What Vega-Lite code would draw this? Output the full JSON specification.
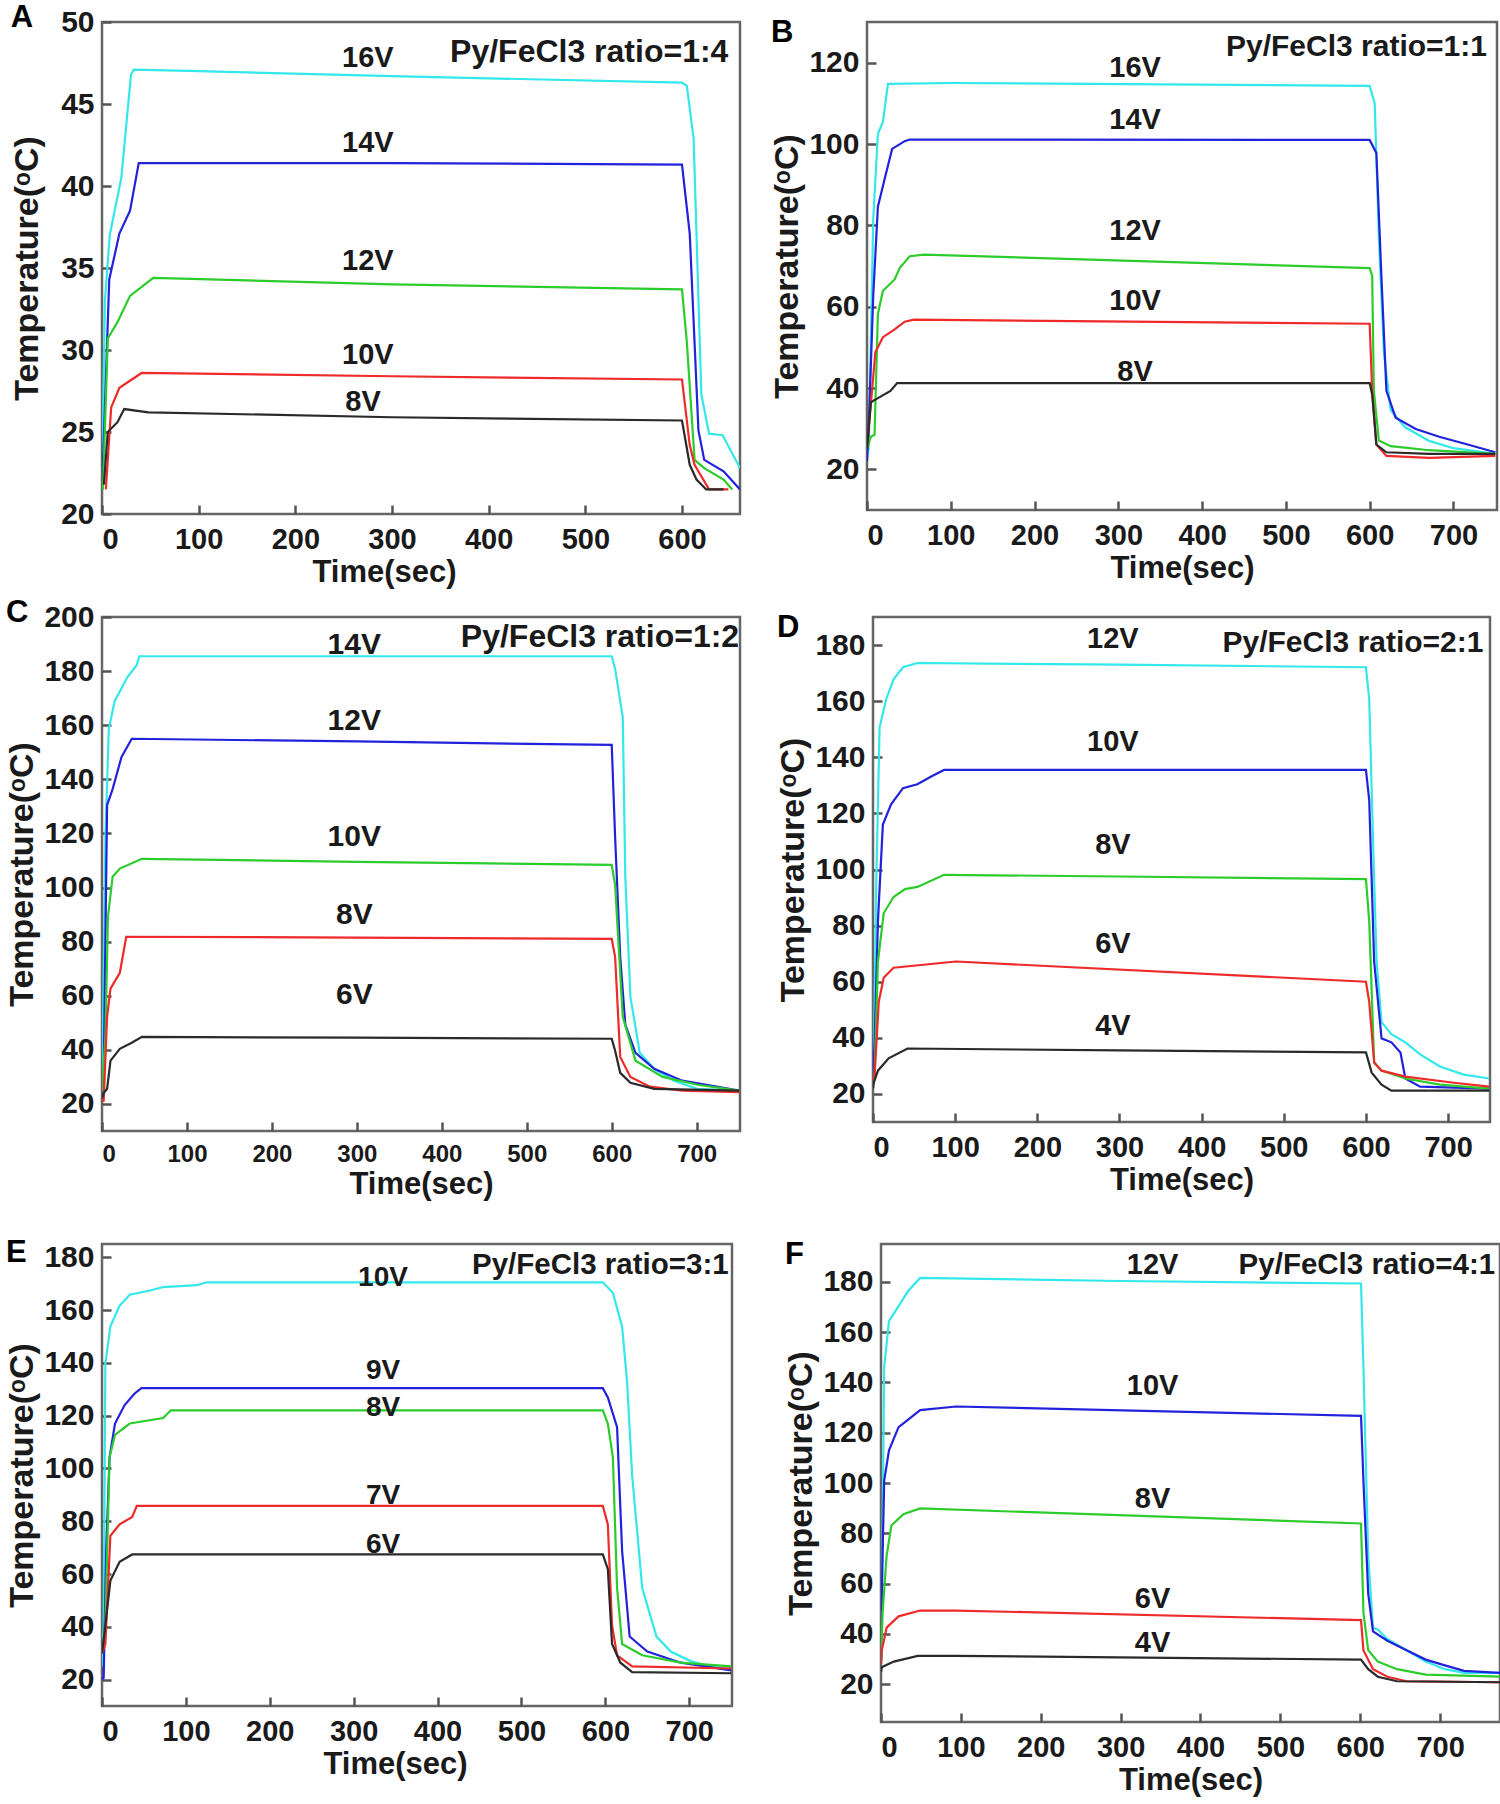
{
  "$schema": "https://vega.github.io/schema/vega-lite/v6.json",
  "padding": {"left": 4, "top": 0, "right": 0, "bottom": 0},
  "background": "white",
  "datasets": {
    "curves": [
      {"p":"A","s":"c","t":0,"T":21.5},{"p":"A","s":"c","t":3,"T":33},{"p":"A","s":"c","t":8,"T":37},{"p":"A","s":"c","t":20,"T":40.5},{"p":"A","s":"c","t":30,"T":46.8},{"p":"A","s":"c","t":33,"T":47.1},{"p":"A","s":"c","t":100,"T":47.0},{"p":"A","s":"c","t":300,"T":46.7},{"p":"A","s":"c","t":600,"T":46.3},{"p":"A","s":"c","t":605,"T":46.1},{"p":"A","s":"c","t":612,"T":42.9},{"p":"A","s":"c","t":620,"T":27.3},{"p":"A","s":"c","t":628,"T":24.9},{"p":"A","s":"c","t":642,"T":24.8},{"p":"A","s":"c","t":660,"T":22.8},
      {"p":"A","s":"b","t":0,"T":21.5},{"p":"A","s":"b","t":3,"T":26.5},{"p":"A","s":"b","t":7.5,"T":34.3},{"p":"A","s":"b","t":18,"T":37.1},{"p":"A","s":"b","t":29,"T":38.5},{"p":"A","s":"b","t":38,"T":41.4},{"p":"A","s":"b","t":300,"T":41.4},{"p":"A","s":"b","t":600,"T":41.3},{"p":"A","s":"b","t":608,"T":37.1},{"p":"A","s":"b","t":617,"T":25.1},{"p":"A","s":"b","t":623,"T":23.3},{"p":"A","s":"b","t":643,"T":22.6},{"p":"A","s":"b","t":660,"T":21.5},
      {"p":"A","s":"g","t":1,"T":21.5},{"p":"A","s":"g","t":6,"T":30.7},{"p":"A","s":"g","t":16,"T":31.7},{"p":"A","s":"g","t":29,"T":33.3},{"p":"A","s":"g","t":53,"T":34.4},{"p":"A","s":"g","t":300,"T":34.0},{"p":"A","s":"g","t":600,"T":33.7},{"p":"A","s":"g","t":605,"T":30.5},{"p":"A","s":"g","t":613,"T":23.3},{"p":"A","s":"g","t":623,"T":22.8},{"p":"A","s":"g","t":643,"T":22.1},{"p":"A","s":"g","t":652,"T":21.5},
      {"p":"A","s":"r","t":4,"T":21.5},{"p":"A","s":"r","t":9.5,"T":26.5},{"p":"A","s":"r","t":18,"T":27.7},{"p":"A","s":"r","t":41,"T":28.6},{"p":"A","s":"r","t":300,"T":28.4},{"p":"A","s":"r","t":600,"T":28.2},{"p":"A","s":"r","t":608,"T":24.2},{"p":"A","s":"r","t":613,"T":23.0},{"p":"A","s":"r","t":628,"T":21.5},{"p":"A","s":"r","t":648,"T":21.5},
      {"p":"A","s":"k","t":2,"T":21.8},{"p":"A","s":"k","t":6,"T":25.0},{"p":"A","s":"k","t":16,"T":25.6},{"p":"A","s":"k","t":23,"T":26.4},{"p":"A","s":"k","t":48,"T":26.2},{"p":"A","s":"k","t":300,"T":25.9},{"p":"A","s":"k","t":600,"T":25.7},{"p":"A","s":"k","t":608,"T":23.0},{"p":"A","s":"k","t":615,"T":22.1},{"p":"A","s":"k","t":625,"T":21.5},{"p":"A","s":"k","t":643,"T":21.5},

      {"p":"B","s":"c","t":0,"T":23},{"p":"B","s":"c","t":2,"T":25},{"p":"B","s":"c","t":7.5,"T":81.8},{"p":"B","s":"c","t":13,"T":102.5},{"p":"B","s":"c","t":19,"T":105.4},{"p":"B","s":"c","t":25,"T":114.8},{"p":"B","s":"c","t":100,"T":115},{"p":"B","s":"c","t":600,"T":114.3},{"p":"B","s":"c","t":606,"T":110},{"p":"B","s":"c","t":611,"T":77},{"p":"B","s":"c","t":617,"T":48.8},{"p":"B","s":"c","t":625,"T":34.6},{"p":"B","s":"c","t":642,"T":30.4},{"p":"B","s":"c","t":671,"T":27},{"p":"B","s":"c","t":700,"T":25.2},{"p":"B","s":"c","t":750,"T":23.8},
      {"p":"B","s":"b","t":0,"T":22},{"p":"B","s":"b","t":2,"T":30},{"p":"B","s":"b","t":7.5,"T":63},{"p":"B","s":"b","t":13,"T":84.6},{"p":"B","s":"b","t":22,"T":92.2},{"p":"B","s":"b","t":30,"T":98.8},{"p":"B","s":"b","t":45,"T":100.7},{"p":"B","s":"b","t":51,"T":101.1},{"p":"B","s":"b","t":600,"T":101},{"p":"B","s":"b","t":608,"T":97.8},{"p":"B","s":"b","t":614,"T":67.6},{"p":"B","s":"b","t":620,"T":39.3},{"p":"B","s":"b","t":631,"T":32.7},{"p":"B","s":"b","t":655,"T":29.9},{"p":"B","s":"b","t":683,"T":28},{"p":"B","s":"b","t":717,"T":26.1},{"p":"B","s":"b","t":750,"T":24.2},
      {"p":"B","s":"g","t":0,"T":25},{"p":"B","s":"g","t":4.6,"T":28},{"p":"B","s":"g","t":9,"T":28.5},{"p":"B","s":"g","t":13,"T":58.2},{"p":"B","s":"g","t":19,"T":63.9},{"p":"B","s":"g","t":33,"T":66.7},{"p":"B","s":"g","t":39,"T":69.5},{"p":"B","s":"g","t":51,"T":72.4},{"p":"B","s":"g","t":68,"T":72.8},{"p":"B","s":"g","t":600,"T":69.5},{"p":"B","s":"g","t":603,"T":67.6},{"p":"B","s":"g","t":605,"T":39.3},{"p":"B","s":"g","t":611,"T":27.1},{"p":"B","s":"g","t":625,"T":25.7},{"p":"B","s":"g","t":671,"T":24.7},{"p":"B","s":"g","t":750,"T":23.8},
      {"p":"B","s":"r","t":0,"T":25},{"p":"B","s":"r","t":2,"T":30},{"p":"B","s":"r","t":10,"T":48.8},{"p":"B","s":"r","t":19,"T":52.5},{"p":"B","s":"r","t":33,"T":54.4},{"p":"B","s":"r","t":45,"T":56.3},{"p":"B","s":"r","t":56,"T":56.8},{"p":"B","s":"r","t":600,"T":55.8},{"p":"B","s":"r","t":603,"T":39.3},{"p":"B","s":"r","t":608,"T":26.1},{"p":"B","s":"r","t":620,"T":23.3},{"p":"B","s":"r","t":671,"T":22.8},{"p":"B","s":"r","t":750,"T":23.3},
      {"p":"B","s":"k","t":0,"T":25},{"p":"B","s":"k","t":4.6,"T":36.5},{"p":"B","s":"k","t":13,"T":37.5},{"p":"B","s":"k","t":28,"T":39.3},{"p":"B","s":"k","t":36,"T":41.2},{"p":"B","s":"k","t":600,"T":41.2},{"p":"B","s":"k","t":603,"T":38.4},{"p":"B","s":"k","t":608,"T":26.1},{"p":"B","s":"k","t":620,"T":24.2},{"p":"B","s":"k","t":671,"T":23.8},{"p":"B","s":"k","t":750,"T":23.8},

      {"p":"C","s":"c","t":0,"T":25},{"p":"C","s":"c","t":1,"T":44.8},{"p":"C","s":"c","t":4,"T":118.7},{"p":"C","s":"c","t":8,"T":158.6},{"p":"C","s":"c","t":15,"T":169},{"p":"C","s":"c","t":30,"T":177.8},{"p":"C","s":"c","t":41,"T":182.3},{"p":"C","s":"c","t":44,"T":185.5},{"p":"C","s":"c","t":600,"T":185.5},{"p":"C","s":"c","t":604,"T":180.8},{"p":"C","s":"c","t":613,"T":163},{"p":"C","s":"c","t":616,"T":104},{"p":"C","s":"c","t":622,"T":59.6},{"p":"C","s":"c","t":633,"T":38.9},{"p":"C","s":"c","t":650,"T":33},{"p":"C","s":"c","t":673,"T":28.6},{"p":"C","s":"c","t":701,"T":25.6},{"p":"C","s":"c","t":750,"T":24.9},
      {"p":"C","s":"b","t":0,"T":25},{"p":"C","s":"b","t":2,"T":30},{"p":"C","s":"b","t":6,"T":130.5},{"p":"C","s":"b","t":12.5,"T":136.4},{"p":"C","s":"b","t":23,"T":148.3},{"p":"C","s":"b","t":35,"T":155},{"p":"C","s":"b","t":300,"T":154},{"p":"C","s":"b","t":600,"T":152.7},{"p":"C","s":"b","t":604,"T":118.7},{"p":"C","s":"b","t":610,"T":74.4},{"p":"C","s":"b","t":616,"T":49.3},{"p":"C","s":"b","t":628,"T":38.9},{"p":"C","s":"b","t":650,"T":33},{"p":"C","s":"b","t":683,"T":28.6},{"p":"C","s":"b","t":750,"T":24.9},
      {"p":"C","s":"g","t":0,"T":25},{"p":"C","s":"g","t":4,"T":44.8},{"p":"C","s":"g","t":7,"T":89.2},{"p":"C","s":"g","t":12.5,"T":104},{"p":"C","s":"g","t":21,"T":107},{"p":"C","s":"g","t":47,"T":110.6},{"p":"C","s":"g","t":300,"T":109.5},{"p":"C","s":"g","t":600,"T":108.4},{"p":"C","s":"g","t":604,"T":101},{"p":"C","s":"g","t":613,"T":52.2},{"p":"C","s":"g","t":628,"T":36},{"p":"C","s":"g","t":660,"T":30},{"p":"C","s":"g","t":701,"T":27.1},{"p":"C","s":"g","t":750,"T":24.9},
      {"p":"C","s":"r","t":0,"T":21},{"p":"C","s":"r","t":2,"T":21.2},{"p":"C","s":"r","t":6,"T":52.2},{"p":"C","s":"r","t":10,"T":62.6},{"p":"C","s":"r","t":21,"T":68.5},{"p":"C","s":"r","t":28.5,"T":81.8},{"p":"C","s":"r","t":300,"T":81.5},{"p":"C","s":"r","t":600,"T":81},{"p":"C","s":"r","t":604,"T":74.4},{"p":"C","s":"r","t":610,"T":37.4},{"p":"C","s":"r","t":622,"T":30},{"p":"C","s":"r","t":645,"T":26.4},{"p":"C","s":"r","t":683,"T":24.9},{"p":"C","s":"r","t":750,"T":24.4},
      {"p":"C","s":"k","t":0,"T":22},{"p":"C","s":"k","t":2,"T":24},{"p":"C","s":"k","t":6,"T":25.6},{"p":"C","s":"k","t":10,"T":36},{"p":"C","s":"k","t":21,"T":40.4},{"p":"C","s":"k","t":35,"T":42.6},{"p":"C","s":"k","t":47,"T":44.8},{"p":"C","s":"k","t":300,"T":44.5},{"p":"C","s":"k","t":600,"T":44.1},{"p":"C","s":"k","t":604,"T":39.7},{"p":"C","s":"k","t":610,"T":31.5},{"p":"C","s":"k","t":622,"T":27.8},{"p":"C","s":"k","t":650,"T":25.6},{"p":"C","s":"k","t":750,"T":24.9},

      {"p":"D","s":"c","t":0,"T":25},{"p":"D","s":"c","t":1,"T":31.2},{"p":"D","s":"c","t":4,"T":95.9},{"p":"D","s":"c","t":8,"T":150.6},{"p":"D","s":"c","t":16,"T":160.6},{"p":"D","s":"c","t":25,"T":167.8},{"p":"D","s":"c","t":36.5,"T":172.1},{"p":"D","s":"c","t":54,"T":173.6},{"p":"D","s":"c","t":300,"T":173},{"p":"D","s":"c","t":600,"T":172.1},{"p":"D","s":"c","t":604,"T":160.6},{"p":"D","s":"c","t":610,"T":95.9},{"p":"D","s":"c","t":613,"T":67.2},{"p":"D","s":"c","t":619,"T":45.6},{"p":"D","s":"c","t":631,"T":41.3},{"p":"D","s":"c","t":648,"T":38.4},{"p":"D","s":"c","t":666,"T":34.1},{"p":"D","s":"c","t":690,"T":29.8},{"p":"D","s":"c","t":719,"T":26.9},{"p":"D","s":"c","t":750,"T":25.5},
      {"p":"D","s":"b","t":0,"T":25},{"p":"D","s":"b","t":2,"T":38.4},{"p":"D","s":"b","t":6,"T":81.5},{"p":"D","s":"b","t":12,"T":116},{"p":"D","s":"b","t":22,"T":123.2},{"p":"D","s":"b","t":36.5,"T":129},{"p":"D","s":"b","t":54,"T":130.4},{"p":"D","s":"b","t":72,"T":133.3},{"p":"D","s":"b","t":86.5,"T":135.5},{"p":"D","s":"b","t":600,"T":135.5},{"p":"D","s":"b","t":604,"T":124.7},{"p":"D","s":"b","t":610,"T":67.2},{"p":"D","s":"b","t":619,"T":39.8},{"p":"D","s":"b","t":631,"T":38.4},{"p":"D","s":"b","t":642,"T":34.8},{"p":"D","s":"b","t":648,"T":25.5},{"p":"D","s":"b","t":666,"T":22.6},{"p":"D","s":"b","t":750,"T":21.9},
      {"p":"D","s":"g","t":0,"T":25},{"p":"D","s":"g","t":2,"T":26.9},{"p":"D","s":"g","t":6,"T":67.2},{"p":"D","s":"g","t":13,"T":84.4},{"p":"D","s":"g","t":25,"T":90.2},{"p":"D","s":"g","t":39,"T":93},{"p":"D","s":"g","t":54,"T":93.8},{"p":"D","s":"g","t":86.5,"T":98.1},{"p":"D","s":"g","t":300,"T":97.5},{"p":"D","s":"g","t":600,"T":96.6},{"p":"D","s":"g","t":604,"T":81.5},{"p":"D","s":"g","t":610,"T":31.2},{"p":"D","s":"g","t":619,"T":28.3},{"p":"D","s":"g","t":648,"T":25.5},{"p":"D","s":"g","t":690,"T":23.3},{"p":"D","s":"g","t":750,"T":21.9},
      {"p":"D","s":"r","t":0,"T":25},{"p":"D","s":"r","t":2,"T":26.9},{"p":"D","s":"r","t":7,"T":52.8},{"p":"D","s":"r","t":13,"T":61.4},{"p":"D","s":"r","t":25,"T":65},{"p":"D","s":"r","t":101,"T":67.2},{"p":"D","s":"r","t":600,"T":60},{"p":"D","s":"r","t":604,"T":52.8},{"p":"D","s":"r","t":610,"T":31.2},{"p":"D","s":"r","t":619,"T":28.3},{"p":"D","s":"r","t":648,"T":26.2},{"p":"D","s":"r","t":707,"T":24},{"p":"D","s":"r","t":750,"T":22.6},
      {"p":"D","s":"k","t":0,"T":22},{"p":"D","s":"k","t":1,"T":24},{"p":"D","s":"k","t":6,"T":28.3},{"p":"D","s":"k","t":19,"T":32.7},{"p":"D","s":"k","t":42,"T":36.2},{"p":"D","s":"k","t":300,"T":35.5},{"p":"D","s":"k","t":600,"T":34.8},{"p":"D","s":"k","t":607,"T":27.6},{"p":"D","s":"k","t":619,"T":23.3},{"p":"D","s":"k","t":631,"T":21.2},{"p":"D","s":"k","t":750,"T":21.2},

      {"p":"E","s":"c","t":0,"T":25},{"p":"E","s":"c","t":2,"T":40.5},{"p":"E","s":"c","t":4,"T":139.6},{"p":"E","s":"c","t":10,"T":153.8},{"p":"E","s":"c","t":21,"T":161.6},{"p":"E","s":"c","t":33,"T":165.8},{"p":"E","s":"c","t":56,"T":167.3},{"p":"E","s":"c","t":73,"T":168.7},{"p":"E","s":"c","t":113,"T":169.4},{"p":"E","s":"c","t":125,"T":170.5},{"p":"E","s":"c","t":597,"T":170.5},{"p":"E","s":"c","t":609,"T":166.5},{"p":"E","s":"c","t":620,"T":153.8},{"p":"E","s":"c","t":626,"T":132.6},{"p":"E","s":"c","t":632,"T":97.2},{"p":"E","s":"c","t":644,"T":54.7},{"p":"E","s":"c","t":661,"T":36.3},{"p":"E","s":"c","t":678,"T":30.6},{"p":"E","s":"c","t":701,"T":27.1},{"p":"E","s":"c","t":724,"T":25},{"p":"E","s":"c","t":750,"T":24.2},
      {"p":"E","s":"b","t":0,"T":20},{"p":"E","s":"b","t":2,"T":20.7},{"p":"E","s":"b","t":5,"T":68.8},{"p":"E","s":"b","t":9,"T":104.2},{"p":"E","s":"b","t":15.5,"T":117},{"p":"E","s":"b","t":27,"T":124},{"p":"E","s":"b","t":38.6,"T":128.3},{"p":"E","s":"b","t":47,"T":130.4},{"p":"E","s":"b","t":597,"T":130.4},{"p":"E","s":"b","t":603,"T":126.9},{"p":"E","s":"b","t":614,"T":115.6},{"p":"E","s":"b","t":620,"T":68.8},{"p":"E","s":"b","t":629,"T":36.3},{"p":"E","s":"b","t":650,"T":30.6},{"p":"E","s":"b","t":690,"T":26.4},{"p":"E","s":"b","t":750,"T":23.5},
      {"p":"E","s":"g","t":0,"T":30},{"p":"E","s":"g","t":4,"T":40.5},{"p":"E","s":"g","t":9,"T":104.2},{"p":"E","s":"g","t":15.5,"T":112.7},{"p":"E","s":"g","t":33,"T":117},{"p":"E","s":"g","t":73,"T":119.1},{"p":"E","s":"g","t":82,"T":122},{"p":"E","s":"g","t":597,"T":122},{"p":"E","s":"g","t":603,"T":117},{"p":"E","s":"g","t":609,"T":104.2},{"p":"E","s":"g","t":614,"T":54.7},{"p":"E","s":"g","t":620,"T":33.5},{"p":"E","s":"g","t":644,"T":29.2},{"p":"E","s":"g","t":690,"T":26.4},{"p":"E","s":"g","t":750,"T":25},
      {"p":"E","s":"r","t":0,"T":30},{"p":"E","s":"r","t":4,"T":33.5},{"p":"E","s":"r","t":10,"T":74.5},{"p":"E","s":"r","t":21,"T":78.8},{"p":"E","s":"r","t":36,"T":81.6},{"p":"E","s":"r","t":41.5,"T":85.8},{"p":"E","s":"r","t":597,"T":85.8},{"p":"E","s":"r","t":603,"T":78.8},{"p":"E","s":"r","t":608,"T":40.5},{"p":"E","s":"r","t":614,"T":29.2},{"p":"E","s":"r","t":632,"T":25},{"p":"E","s":"r","t":750,"T":24.2},
      {"p":"E","s":"k","t":0,"T":30},{"p":"E","s":"k","t":4,"T":40.5},{"p":"E","s":"k","t":10,"T":57.5},{"p":"E","s":"k","t":21,"T":64.6},{"p":"E","s":"k","t":36,"T":67.4},{"p":"E","s":"k","t":597,"T":67.4},{"p":"E","s":"k","t":603,"T":61.8},{"p":"E","s":"k","t":608,"T":33.5},{"p":"E","s":"k","t":618,"T":26.4},{"p":"E","s":"k","t":632,"T":22.8},{"p":"E","s":"k","t":750,"T":22.4},

      {"p":"F","s":"c","t":0,"T":30},{"p":"F","s":"c","t":1,"T":48.5},{"p":"F","s":"c","t":4,"T":146.2},{"p":"F","s":"c","t":10,"T":164.3},{"p":"F","s":"c","t":22,"T":170.3},{"p":"F","s":"c","t":34,"T":176.3},{"p":"F","s":"c","t":49,"T":181.5},{"p":"F","s":"c","t":300,"T":180.3},{"p":"F","s":"c","t":601,"T":179.3},{"p":"F","s":"c","t":604,"T":146.2},{"p":"F","s":"c","t":610,"T":71},{"p":"F","s":"c","t":616,"T":42.5},{"p":"F","s":"c","t":622,"T":41.8},{"p":"F","s":"c","t":634,"T":38},{"p":"F","s":"c","t":658,"T":33.5},{"p":"F","s":"c","t":682,"T":29},{"p":"F","s":"c","t":706,"T":26},{"p":"F","s":"c","t":730,"T":24.5},{"p":"F","s":"c","t":775,"T":24.5},
      {"p":"F","s":"b","t":0,"T":30},{"p":"F","s":"b","t":1,"T":56},{"p":"F","s":"b","t":4,"T":101},{"p":"F","s":"b","t":10,"T":113},{"p":"F","s":"b","t":22,"T":122.2},{"p":"F","s":"b","t":34,"T":125.2},{"p":"F","s":"b","t":49,"T":129},{"p":"F","s":"b","t":94,"T":130.4},{"p":"F","s":"b","t":601,"T":126.7},{"p":"F","s":"b","t":604,"T":101},{"p":"F","s":"b","t":610,"T":56},{"p":"F","s":"b","t":616,"T":41},{"p":"F","s":"b","t":634,"T":37.3},{"p":"F","s":"b","t":658,"T":33.5},{"p":"F","s":"b","t":682,"T":29.8},{"p":"F","s":"b","t":706,"T":27.5},{"p":"F","s":"b","t":730,"T":25.3},{"p":"F","s":"b","t":775,"T":24.5},
      {"p":"F","s":"g","t":0,"T":28},{"p":"F","s":"g","t":2,"T":48.5},{"p":"F","s":"g","t":7,"T":71},{"p":"F","s":"g","t":13,"T":83.1},{"p":"F","s":"g","t":28,"T":87.6},{"p":"F","s":"g","t":49,"T":89.9},{"p":"F","s":"g","t":601,"T":83.9},{"p":"F","s":"g","t":604,"T":48.5},{"p":"F","s":"g","t":610,"T":33.5},{"p":"F","s":"g","t":622,"T":29},{"p":"F","s":"g","t":646,"T":26},{"p":"F","s":"g","t":682,"T":23.8},{"p":"F","s":"g","t":775,"T":23},
      {"p":"F","s":"r","t":0,"T":28},{"p":"F","s":"r","t":1,"T":33.5},{"p":"F","s":"r","t":7,"T":42.5},{"p":"F","s":"r","t":22,"T":47},{"p":"F","s":"r","t":49,"T":49.3},{"p":"F","s":"r","t":94,"T":49.3},{"p":"F","s":"r","t":601,"T":45.5},{"p":"F","s":"r","t":604,"T":33.5},{"p":"F","s":"r","t":616,"T":26},{"p":"F","s":"r","t":634,"T":23},{"p":"F","s":"r","t":658,"T":21.2},{"p":"F","s":"r","t":775,"T":20.8},
      {"p":"F","s":"k","t":0,"T":25},{"p":"F","s":"k","t":1,"T":26.8},{"p":"F","s":"k","t":16,"T":29},{"p":"F","s":"k","t":46,"T":31.3},{"p":"F","s":"k","t":94,"T":31.3},{"p":"F","s":"k","t":601,"T":29.8},{"p":"F","s":"k","t":610,"T":26},{"p":"F","s":"k","t":622,"T":23},{"p":"F","s":"k","t":646,"T":21.2},{"p":"F","s":"k","t":775,"T":20.8}
    ],
    "labels": [
      {"p":"A","label":"16V","t":275,"T":47.8},{"p":"A","label":"14V","t":275,"T":42.6},{"p":"A","label":"12V","t":275,"T":35.4},{"p":"A","label":"10V","t":275,"T":29.7},{"p":"A","label":"8V","t":270,"T":26.8},
      {"p":"B","label":"16V","t":320,"T":118.6},{"p":"B","label":"14V","t":320,"T":105.8},{"p":"B","label":"12V","t":320,"T":78.5},{"p":"B","label":"10V","t":320,"T":61.5},{"p":"B","label":"8V","t":320,"T":44},
      {"p":"C","label":"14V","t":297,"T":189.6},{"p":"C","label":"12V","t":297,"T":161.6},{"p":"C","label":"10V","t":297,"T":118.7},{"p":"C","label":"8V","t":297,"T":89.9},{"p":"C","label":"6V","t":297,"T":60.3},
      {"p":"D","label":"12V","t":292,"T":182.2},{"p":"D","label":"10V","t":292,"T":145.5},{"p":"D","label":"8V","t":292,"T":108.9},{"p":"D","label":"6V","t":292,"T":73.6},{"p":"D","label":"4V","t":292,"T":44.2},
      {"p":"E","label":"10V","t":335,"T":172.2},{"p":"E","label":"9V","t":335,"T":136.8},{"p":"E","label":"8V","t":335,"T":122.7},{"p":"E","label":"7V","t":335,"T":89.4},{"p":"E","label":"6V","t":335,"T":71},
      {"p":"F","label":"12V","t":340,"T":186.8},{"p":"F","label":"10V","t":340,"T":138.7},{"p":"F","label":"8V","t":340,"T":93.6},{"p":"F","label":"6V","t":340,"T":53.8},{"p":"F","label":"4V","t":340,"T":36.5}
    ],
    "notes": [
      {"p":"A","label":"Py/FeCl3 ratio=1:4","t":648,"T":48.2},
      {"p":"B","label":"Py/FeCl3 ratio=1:1","t":740,"T":123.8},
      {"p":"C","label":"Py/FeCl3 ratio=1:2","t":750,"T":192.6},
      {"p":"D","label":"Py/FeCl3 ratio=2:1","t":743,"T":180.7},
      {"p":"E","label":"Py/FeCl3 ratio=3:1","t":747,"T":177.2},
      {"p":"F","label":"Py/FeCl3 ratio=4:1","t":769,"T":186.8}
    ]
  },
  "vconcat": [
    {
      "vconcat": [
        {
          "hconcat": [
            {
              "width": 638, "height": 492,
              "title": {"text": "A"},
              "layer": [
                {"data": {"name": "curves"}, "transform": [{"filter": "datum.p === 'A'"}],
                 "mark": {"type": "line", "strokeWidth": 2.2, "clip": true},
                 "encoding": {
                   "x": {"field": "t", "type": "quantitative", "scale": {"domain": [0, 660], "nice": false, "zero": false}, "axis": {"values": [0,100,200,300,400,500,600], "title": "Time(sec)", "titleX": 282}},
                   "y": {"field": "T", "type": "quantitative", "scale": {"domain": [20, 50], "nice": false, "zero": false}, "axis": {"values": [20,25,30,35,40,45,50], "title": "Temperature(ᵒC)", "titlePadding": 16}},
                   "color": {"field": "s", "type": "nominal", "scale": {"domain": ["k","r","g","b","c"], "range": ["#2a2a2a","#ee2a2a","#2ccc2c","#2222dd","#33e8ea"]}, "legend": null}
                 }},
                {"data": {"name": "labels"}, "transform": [{"filter": "datum.p === 'A'"}],
                 "mark": {"type": "text", "fontSize": 29, "fontWeight": "bold", "font": "Liberation Sans", "color": "#1a1a1a"},
                 "encoding": {"x": {"field": "t", "type": "quantitative"}, "y": {"field": "T", "type": "quantitative"}, "text": {"field": "label"}}},
                {"data": {"name": "notes"}, "transform": [{"filter": "datum.p === 'A'"}],
                 "mark": {"type": "text", "align": "right", "fontSize": 32, "fontWeight": "bold", "font": "Liberation Sans", "color": "#1a1a1a"},
                 "encoding": {"x": {"field": "t", "type": "quantitative"}, "y": {"field": "T", "type": "quantitative"}, "text": {"field": "label"}}}
              ]
            },
            {
              "width": 630, "height": 488,
              "title": {"text": "B"},
              "layer": [
                {"data": {"name": "curves"}, "transform": [{"filter": "datum.p === 'B'"}],
                 "mark": {"type": "line", "strokeWidth": 2.2, "clip": true},
                 "encoding": {
                   "x": {"field": "t", "type": "quantitative", "scale": {"domain": [0, 752], "nice": false, "zero": false}, "axis": {"values": [0,100,200,300,400,500,600,700], "title": "Time(sec)"}},
                   "y": {"field": "T", "type": "quantitative", "scale": {"domain": [10, 130], "nice": false, "zero": false}, "axis": {"values": [20,40,60,80,100,120], "title": "Temperature(ᵒC)"}},
                   "color": {"field": "s", "type": "nominal", "scale": {"domain": ["k","r","g","b","c"], "range": ["#2a2a2a","#ee2a2a","#2ccc2c","#2222dd","#33e8ea"]}, "legend": null}
                 }},
                {"data": {"name": "labels"}, "transform": [{"filter": "datum.p === 'B'"}],
                 "mark": {"type": "text", "fontSize": 29, "fontWeight": "bold", "font": "Liberation Sans", "color": "#1a1a1a"},
                 "encoding": {"x": {"field": "t", "type": "quantitative"}, "y": {"field": "T", "type": "quantitative"}, "text": {"field": "label"}}},
                {"data": {"name": "notes"}, "transform": [{"filter": "datum.p === 'B'"}],
                 "mark": {"type": "text", "align": "right", "fontSize": 30, "fontWeight": "bold", "font": "Liberation Sans", "color": "#1a1a1a"},
                 "encoding": {"x": {"field": "t", "type": "quantitative"}, "y": {"field": "T", "type": "quantitative"}, "text": {"field": "label"}}}
              ]
            }
          ],
          "spacing": 27
        },
        {
          "hconcat": [
            {
              "width": 638, "height": 514,
              "title": {"text": "C"},
              "layer": [
                {"data": {"name": "curves"}, "transform": [{"filter": "datum.p === 'C'"}],
                 "mark": {"type": "line", "strokeWidth": 2.2, "clip": true},
                 "encoding": {
                   "x": {"field": "t", "type": "quantitative", "scale": {"domain": [0, 751], "nice": false, "zero": false}, "axis": {"values": [0,100,200,300,400,500,600,700], "title": "Time(sec)", "labelFontSize": 24}},
                   "y": {"field": "T", "type": "quantitative", "scale": {"domain": [10, 200], "nice": false, "zero": false}, "axis": {"values": [20,40,60,80,100,120,140,160,180,200], "title": "Temperature(ᵒC)"}},
                   "color": {"field": "s", "type": "nominal", "scale": {"domain": ["k","r","g","b","c"], "range": ["#2a2a2a","#ee2a2a","#2ccc2c","#2222dd","#33e8ea"]}, "legend": null}
                 }},
                {"data": {"name": "labels"}, "transform": [{"filter": "datum.p === 'C'"}],
                 "mark": {"type": "text", "fontSize": 30, "fontWeight": "bold", "font": "Liberation Sans", "color": "#1a1a1a"},
                 "encoding": {"x": {"field": "t", "type": "quantitative"}, "y": {"field": "T", "type": "quantitative"}, "text": {"field": "label"}}},
                {"data": {"name": "notes"}, "transform": [{"filter": "datum.p === 'C'"}],
                 "mark": {"type": "text", "align": "right", "fontSize": 32, "fontWeight": "bold", "font": "Liberation Sans", "color": "#1a1a1a"},
                 "encoding": {"x": {"field": "t", "type": "quantitative"}, "y": {"field": "T", "type": "quantitative"}, "text": {"field": "label"}}}
              ]
            },
            {
              "width": 617, "height": 505,
              "title": {"text": "D"},
              "layer": [
                {"data": {"name": "curves"}, "transform": [{"filter": "datum.p === 'D'"}],
                 "mark": {"type": "line", "strokeWidth": 2.2, "clip": true},
                 "encoding": {
                   "x": {"field": "t", "type": "quantitative", "scale": {"domain": [0, 751], "nice": false, "zero": false}, "axis": {"values": [0,100,200,300,400,500,600,700], "title": "Time(sec)"}},
                   "y": {"field": "T", "type": "quantitative", "scale": {"domain": [10, 190], "nice": false, "zero": false}, "axis": {"values": [20,40,60,80,100,120,140,160,180], "title": "Temperature(ᵒC)"}},
                   "color": {"field": "s", "type": "nominal", "scale": {"domain": ["k","r","g","b","c"], "range": ["#2a2a2a","#ee2a2a","#2ccc2c","#2222dd","#33e8ea"]}, "legend": null}
                 }},
                {"data": {"name": "labels"}, "transform": [{"filter": "datum.p === 'D'"}],
                 "mark": {"type": "text", "fontSize": 29, "fontWeight": "bold", "font": "Liberation Sans", "color": "#1a1a1a"},
                 "encoding": {"x": {"field": "t", "type": "quantitative"}, "y": {"field": "T", "type": "quantitative"}, "text": {"field": "label"}}},
                {"data": {"name": "notes"}, "transform": [{"filter": "datum.p === 'D'"}],
                 "mark": {"type": "text", "align": "right", "fontSize": 30, "fontWeight": "bold", "font": "Liberation Sans", "color": "#1a1a1a"},
                 "encoding": {"x": {"field": "t", "type": "quantitative"}, "y": {"field": "T", "type": "quantitative"}, "text": {"field": "label"}}}
              ]
            }
          ],
          "spacing": 33
        }
      ],
      "spacing": 6
    },
    {
      "hconcat": [
        {
          "width": 630, "height": 462,
          "title": {"text": "E"},
          "layer": [
            {"data": {"name": "curves"}, "transform": [{"filter": "datum.p === 'E'"}],
             "mark": {"type": "line", "strokeWidth": 2.2, "clip": true},
             "encoding": {
               "x": {"field": "t", "type": "quantitative", "scale": {"domain": [0, 751], "nice": false, "zero": false}, "axis": {"values": [0,100,200,300,400,500,600,700], "title": "Time(sec)", "titleX": 293}},
               "y": {"field": "T", "type": "quantitative", "scale": {"domain": [10, 185], "nice": false, "zero": false}, "axis": {"values": [20,40,60,80,100,120,140,160,180], "title": "Temperature(ᵒC)"}},
               "color": {"field": "s", "type": "nominal", "scale": {"domain": ["k","r","g","b","c"], "range": ["#2a2a2a","#ee2a2a","#2ccc2c","#2222dd","#33e8ea"]}, "legend": null}
             }},
            {"data": {"name": "labels"}, "transform": [{"filter": "datum.p === 'E'"}],
             "mark": {"type": "text", "fontSize": 28, "fontWeight": "bold", "font": "Liberation Sans", "color": "#1a1a1a"},
             "encoding": {"x": {"field": "t", "type": "quantitative"}, "y": {"field": "T", "type": "quantitative"}, "text": {"field": "label"}}},
            {"data": {"name": "notes"}, "transform": [{"filter": "datum.p === 'E'"}],
             "mark": {"type": "text", "align": "right", "fontSize": 29.5, "fontWeight": "bold", "font": "Liberation Sans", "color": "#1a1a1a"},
             "encoding": {"x": {"field": "t", "type": "quantitative"}, "y": {"field": "T", "type": "quantitative"}, "text": {"field": "label"}}}
          ]
        },
        {
          "width": 619, "height": 478,
          "title": {"text": "F"},
          "layer": [
            {"data": {"name": "curves"}, "transform": [{"filter": "datum.p === 'F'"}],
             "mark": {"type": "line", "strokeWidth": 2.2, "clip": true},
             "encoding": {
               "x": {"field": "t", "type": "quantitative", "scale": {"domain": [0, 775], "nice": false, "zero": false}, "axis": {"values": [0,100,200,300,400,500,600,700], "title": "Time(sec)"}},
               "y": {"field": "T", "type": "quantitative", "scale": {"domain": [5, 195], "nice": false, "zero": false}, "axis": {"values": [20,40,60,80,100,120,140,160,180], "title": "Temperature(ᵒC)"}},
               "color": {"field": "s", "type": "nominal", "scale": {"domain": ["k","r","g","b","c"], "range": ["#2a2a2a","#ee2a2a","#2ccc2c","#2222dd","#33e8ea"]}, "legend": null}
             }},
            {"data": {"name": "labels"}, "transform": [{"filter": "datum.p === 'F'"}],
             "mark": {"type": "text", "fontSize": 29, "fontWeight": "bold", "font": "Liberation Sans", "color": "#1a1a1a"},
             "encoding": {"x": {"field": "t", "type": "quantitative"}, "y": {"field": "T", "type": "quantitative"}, "text": {"field": "label"}}},
            {"data": {"name": "notes"}, "transform": [{"filter": "datum.p === 'F'"}],
             "mark": {"type": "text", "align": "right", "fontSize": 29.5, "fontWeight": "bold", "font": "Liberation Sans", "color": "#1a1a1a"},
             "encoding": {"x": {"field": "t", "type": "quantitative"}, "y": {"field": "T", "type": "quantitative"}, "text": {"field": "label"}}}
          ]
        }
      ],
      "spacing": 49
    }
  ],
  "spacing": 34,
  "config": {
    "font": "Liberation Sans",
    "view": {"stroke": "#666666", "strokeWidth": 2.5},
    "axis": {
      "grid": false,
      "domain": false,
      "labelFont": "Liberation Sans",
      "labelFontWeight": "bold",
      "labelFontSize": 30,
      "labelColor": "#1a1a1a",
      "titleFont": "Liberation Sans",
      "titleFontWeight": "bold",
      "titleFontSize": 31,
      "titleColor": "#1a1a1a",
      "tickColor": "#555555",
      "tickWidth": 2.5,
      "tickSize": 9,
      "offset": -9
    },
    "axisX": {"labelPadding": 11, "titlePadding": 3, "labelFontSize": 29},
    "axisY": {"labelPadding": 8, "titlePadding": 4, "titleFontSize": 34},
    "title": {"anchor": "start", "frame": "bounds", "fontSize": 31, "fontWeight": "bold", "font": "Liberation Sans", "color": "#000000", "offset": -27}
  }
}
